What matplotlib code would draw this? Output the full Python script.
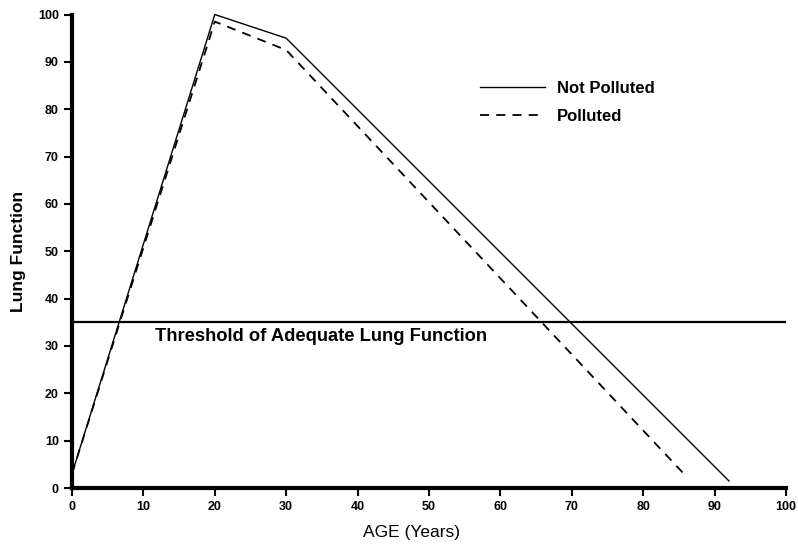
import matplotlib
matplotlib.use("Agg")
import matplotlib.pyplot as plt

# Data
age = [0, 20, 30, 92]
not_polluted = [3, 100, 95, 1.5]
age_p = [0, 20, 30, 86]
polluted = [3, 98.5, 92.5, 2.5]
threshold = 35
threshold_label = "Threshold of Adequate Lung Function"
x_ticks = list(range(0, 101, 10))
y_ticks = list(range(0, 101, 10))

plt.rcParams["font.family"] = ["Liberation Sans", "DejaVu Sans"]

fig = plt.figure(figsize=(7.98, 5.46), dpi=100)
ax = fig.add_axes([0.0902, 0.1062, 0.8948, 0.8672])

ax.plot(age, not_polluted, color="black", lw=1.0, label="Not Polluted", clip_on=False)
ax.plot(age_p, polluted, color="black", lw=1.3, ls=(0, (5, 4)), label="Polluted", clip_on=False)
ax.axhline(threshold, color="black", lw=1.6, xmin=0, xmax=1)
ax.text(11.6, 32, threshold_label, fontsize=13.2, fontweight="bold", va="center", ha="left")

ax.set_xlim(0, 100)
ax.set_ylim(0, 100)
ax.set_xticks(x_ticks)
ax.set_yticks(y_ticks)
ax.tick_params(direction="out", length=6, width=1.5, labelsize=9)
for lbl in ax.get_xticklabels() + ax.get_yticklabels():
    lbl.set_fontweight("bold")

for side in ["top", "right"]:
    ax.spines[side].set_visible(False)
for side in ["left", "bottom"]:
    ax.spines[side].set_linewidth(3)

ax.set_xlabel("AGE (Years)", fontsize=12.5)
ax.set_ylabel("Lung Function", fontsize=12.5, fontweight="bold")
ax.xaxis.set_label_coords(0.476, -0.078)
ax.yaxis.set_label_coords(-0.064, 0.5)

ax.legend(loc="upper left", bbox_to_anchor=(0.551, 0.891), frameon=False,
          prop={"size": 12, "weight": "bold"}, handlelength=3.9, handletextpad=0.7,
          labelspacing=0.75)

fig.savefig("out.png", dpi=100)
